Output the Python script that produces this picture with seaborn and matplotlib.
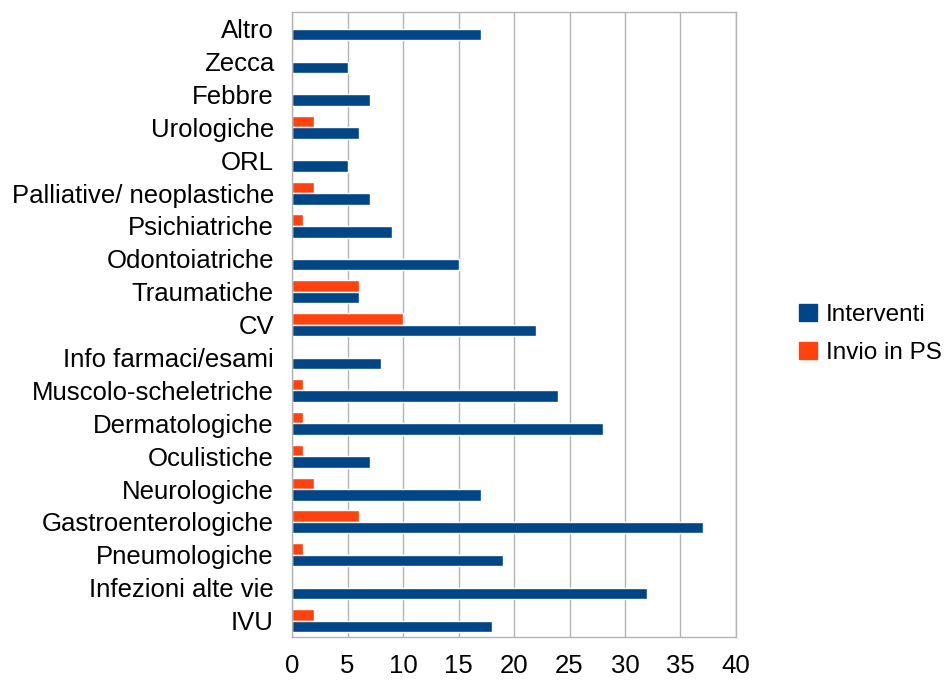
import pandas as pd
import numpy as np
import matplotlib.pyplot as plt
import seaborn as sns
from matplotlib.patches import Patch

categorie = ["Altro", "Zecca", "Febbre", "Urologiche", "ORL", "Palliative/ neoplastiche",
             "Psichiatriche", "Odontoiatriche", "Traumatiche", "CV", "Info farmaci/esami",
             "Muscolo-scheletriche", "Dermatologiche", "Oculistiche", "Neurologiche",
             "Gastroenterologiche", "Pneumologiche", "Infezioni alte vie", "IVU"]
interventi = [17, 5, 7, 6, 5, 7, 9, 15, 6, 22, 8, 24, 28, 7, 17, 37, 19, 32, 18]
invio_ps = [0, 0, 0, 2, 0, 2, 1, 0, 6, 10, 0, 1, 1, 1, 2, 6, 1, 0, 2]

colori = {"Interventi": "#004586", "Invio in PS": "#ff420e"}

df = pd.DataFrame({
    "categoria": categorie * 2,
    "valore": interventi + invio_ps,
    "serie": ["Interventi"] * len(categorie) + ["Invio in PS"] * len(categorie),
})

sns.set_style("white")
plt.rcParams['font.family'] = ['Liberation Sans', 'DejaVu Sans']
plt.rcParams['text.color'] = 'black'
plt.rcParams['xtick.labelcolor'] = 'black'
plt.rcParams['ytick.labelcolor'] = 'black'

fig = plt.figure(figsize=(9.46, 6.82), dpi=100)
ax = fig.add_axes([0.3087, 0.066, 0.4693, 0.916])

sns.barplot(data=df, y="categoria", x="valore", hue="serie", order=categorie,
            hue_order=["Invio in PS", "Interventi"], palette=colori, orient="h",
            width=0.7, saturation=1, ax=ax, legend=False)

n = len(categorie)
ax.set_ylim(n - 0.5, -0.5)
ax.set_xlim(0, 40)
ax.set_xticks(np.arange(0, 41, 5))
ax.set_xlabel("")
ax.set_ylabel("")
ax.xaxis.grid(True, color="#b3b3b3", linewidth=1)
ax.set_axisbelow(True)
for s in ax.spines.values():
    s.set_color("#b3b3b3")
    s.set_linewidth(1)

ax.set_yticks(np.arange(-0.5, n, 1), minor=True)
ax.tick_params(axis="y", which="major", length=0, labelsize=18.5, pad=13)
ax.tick_params(axis="y", which="minor", length=8, color="#b3b3b3", width=1)
ax.tick_params(axis="x", which="major", length=8, color="#b3b3b3", width=1, labelsize=18.5, pad=4)

handles = [Patch(color=colori["Interventi"]), Patch(color=colori["Invio in PS"])]
fig.legend(handles, ["Interventi", "Invio in PS"], loc="center left",
           bbox_to_anchor=(0.822, 0.51), frameon=False, fontsize=17.5,
           handlelength=0.7, handleheight=0.7, handletextpad=0.4, labelspacing=0.65)

fig.savefig("out.png", dpi=100)
